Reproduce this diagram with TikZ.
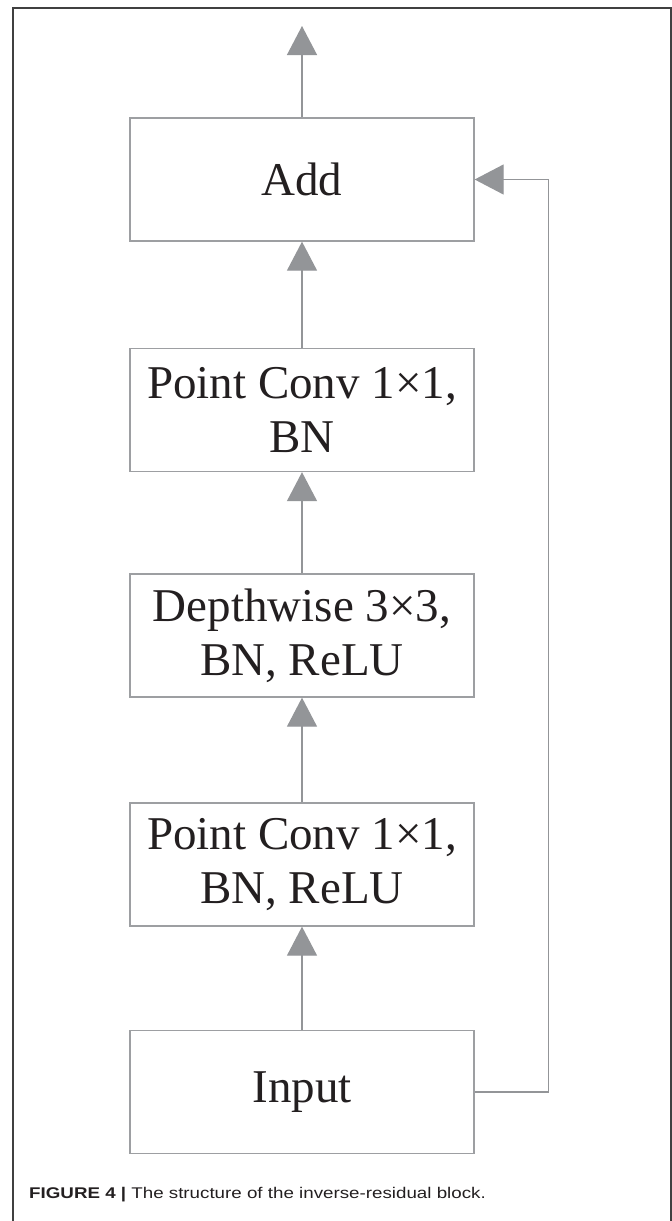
\documentclass[tikz,border=0pt]{standalone}
\usepackage{fontspec}
\setmainfont{Liberation Serif}
\newfontfamily\capfont[FakeStretch=1.21]{Liberation Sans}
\usetikzlibrary{arrows.meta}

\definecolor{chenar}{HTML}{9D9FA2}
\definecolor{sageti}{HTML}{939598}
\definecolor{text}{HTML}{231F20}

\begin{document}
\begin{tikzpicture}[x=1pt,y=-1pt,
    bloc/.style={draw=chenar,line width=1.3pt,minimum width=344pt,minimum height=123pt,
      inner sep=0pt,align=center,text=text,font=\fontsize{47}{54}\selectfont},
    sageata/.style={draw=sageti,line width=1.3pt,-{Triangle[length=29pt,width=30pt,fill=sageti]}}]
  \useasboundingbox (0,0) rectangle (672,1221);

  % cadrul
  \draw[line width=1.2pt,black!75] (13,1221) -- (13,8) -- (671,8) -- (671,1221);

  % blocurile
  \node[bloc] (add)   at (302,179.5) {Add};
  \node[bloc] (pc2)   at (302,410)   {Point Conv 1×1,\\BN};
  \node[bloc] (dw)    at (302,635.5) {Depthwise 3×3,\\BN, ReLU};
  \node[bloc] (pc1)   at (302,864.5) {Point Conv 1×1,\\BN, ReLU};
  \node[bloc] (input) at (302,1092)  {Input};
  \coordinate (out) at (302,26);

  % săgețile
  \draw[sageata] (input) -- (pc1);
  \draw[sageata] (pc1) -- (dw);
  \draw[sageata] (dw) -- (pc2);
  \draw[sageata] (pc2) -- (add);
  \draw[sageata] (add) -- (out);
  \draw[sageata] (input.east) -| ([xshift=74pt]add.east) -- (add.east);

  % legenda
  \node[anchor=base west,inner sep=0pt,text=text,font=\capfont\fontsize{15.5}{18}\selectfont] (leg) at (29,1198)
    {\textbf{FIGURE 4 |} The structure of the inverse-residual block.};
\end{tikzpicture}
\end{document}
